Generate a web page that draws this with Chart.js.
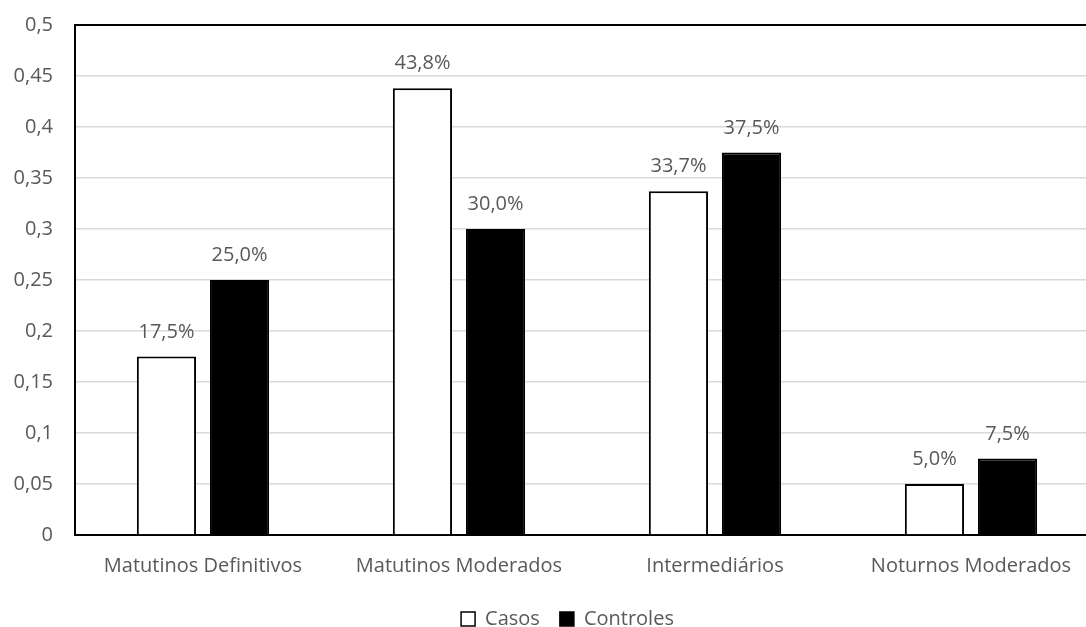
<!DOCTYPE html>
<html>
<head>
<meta charset="utf-8">
<script src="https://cdn.jsdelivr.net/npm/chart.js@4/dist/chart.umd.min.js"></script>
<style>
  html, body { margin: 0; padding: 0; background: #fff; overflow: hidden; }
  #wrap { width: 1086px; height: 627px; overflow: hidden; }
  canvas { display: block; }
</style>
</head>
<body>
<div id="wrap"><canvas id="c" width="1099" height="627"></canvas></div>
<script>
const categories = ['Matutinos Definitivos', 'Matutinos Moderados', 'Intermediários', 'Noturnos Moderados'];
const casos = [0.175, 0.438, 0.337, 0.05];
const controles = [0.25, 0.30, 0.375, 0.075];
const yTicks = [0, 0.05, 0.1, 0.15, 0.2, 0.25, 0.3, 0.35, 0.4, 0.45, 0.5];

const FONT = "'Open Sans', 'Noto Sans', sans-serif";
const TEXT = '#595959';

function decimalComma(v) {
  if (v === 0) return '0';
  return String(parseFloat(v.toFixed(2))).replace('.', ',');
}

// Percentage labels above each bar
const valueLabels = {
  id: 'valueLabels',
  afterDatasetsDraw(chart) {
    const ctx = chart.ctx;
    ctx.save();
    ctx.font = '20px ' + FONT;
    ctx.fillStyle = TEXT;
    ctx.textAlign = 'center';
    ctx.textBaseline = 'alphabetic';
    chart.data.datasets.forEach((ds, i) => {
      chart.getDatasetMeta(i).data.forEach((bar, j) => {
        const txt = (ds.data[j] * 100).toFixed(1).replace('.', ',') + '%';
        ctx.fillText(txt, bar.x, bar.y - 19);
      });
    });
    ctx.restore();
  }
};

// Nudge the legend block to the right
const legendShift = {
  id: 'legendShift',
  afterLayout(chart) {
    if (chart.legend) {
      chart.legend.left += 18;
      chart.legend.right += 18;
    }
  }
};

new Chart(document.getElementById('c'), {
  type: 'bar',
  data: {
    labels: categories,
    datasets: [
      { label: 'Casos', data: casos, backgroundColor: '#ffffff', borderColor: '#000000', borderWidth: 2,
        barPercentage: 0.81, categoryPercentage: 0.571 },
      { label: 'Controles', data: controles, backgroundColor: '#000000', borderColor: '#000000', borderWidth: 2,
        barPercentage: 0.81, categoryPercentage: 0.571 }
    ]
  },
  options: {
    responsive: false,
    animation: false,
    devicePixelRatio: 1,
    layout: { padding: { top: 25, right: 0, left: 0, bottom: -12 } },
    plugins: {
      tooltip: { enabled: false },
      legend: {
        position: 'bottom',
        labels: {
          font: { family: FONT, size: 20 },
          color: TEXT,
          boxWidth: 14,
          boxHeight: 14,
          padding: 20,
          generateLabels(chart) {
            return chart.data.datasets.map((ds, i) => ({
              text: ds.label,
              fillStyle: ds.backgroundColor,
              strokeStyle: '#000000',
              lineWidth: 1.5,
              fontColor: TEXT,
              datasetIndex: i
            }));
          }
        }
      }
    },
    scales: {
      x: {
        grid: { display: false },
        border: { color: '#000000', width: 2 },
        ticks: { font: { family: FONT, size: 20 }, color: TEXT, padding: 11 }
      },
      y: {
        min: 0,
        max: 0.5,
        afterBuildTicks(scale) { scale.ticks = yTicks.map(v => ({ value: v })); },
        afterFit(scale) {
          scale.width = 75;
          scale.paddingTop = 0;
          scale.paddingBottom = 0;
        },
        grid: {
          color: ctx => (ctx.tick && ctx.tick.value === 0.5 ? '#000000' : '#d9d9d9'),
          lineWidth: ctx => (ctx.tick && ctx.tick.value === 0.5 ? 2 : 1.5),
          drawTicks: false
        },
        border: { color: '#000000', width: 2 },
        ticks: { font: { family: FONT, size: 20 }, color: TEXT, padding: 22, callback: v => decimalComma(v) }
      }
    }
  },
  plugins: [valueLabels, legendShift]
});
</script>
</body>
</html>
